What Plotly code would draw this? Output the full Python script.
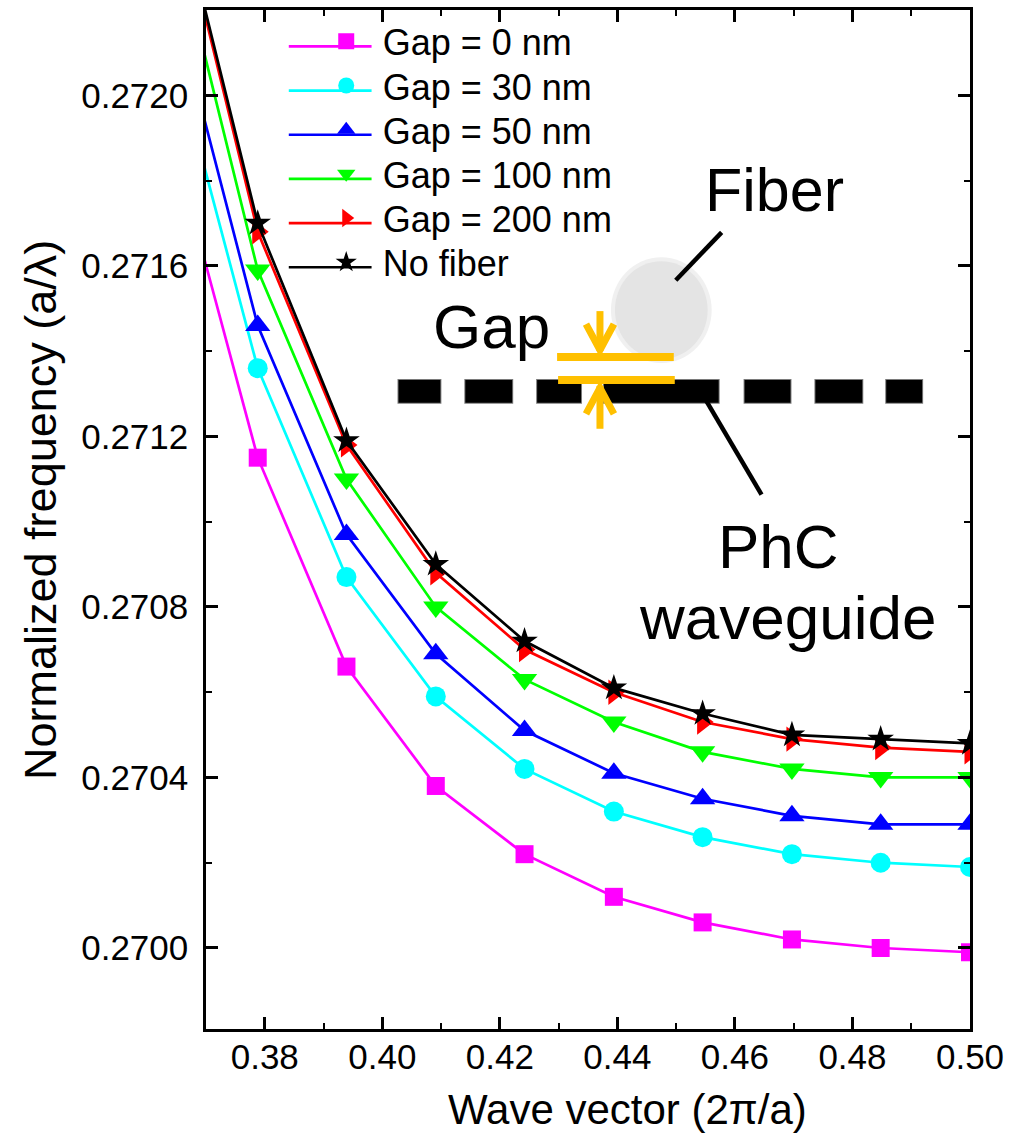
import plotly.graph_objects as go

# ---------------- data ----------------
wave_vector = [0.3636, 0.3788, 0.3939, 0.4091, 0.4242, 0.4394, 0.4545, 0.4697, 0.4848, 0.5000]

gap_0 = [0.27193, 0.27115, 0.27066, 0.27038, 0.27022, 0.27012, 0.27006, 0.27002, 0.27000, 0.26999]
gap_30 = [0.27215, 0.27136, 0.27087, 0.27059, 0.27042, 0.27032, 0.27026, 0.27022, 0.27020, 0.27019]
gap_50 = [0.27227, 0.27146, 0.27097, 0.27069, 0.27051, 0.27041, 0.27035, 0.27031, 0.27029, 0.27029]
gap_100 = [0.27244, 0.27159, 0.27110, 0.27080, 0.27063, 0.27053, 0.27046, 0.27042, 0.27040, 0.27040]
gap_200 = [0.27254, 0.27168, 0.27118, 0.27088, 0.27070, 0.27060, 0.27053, 0.27049, 0.27047, 0.27046]
no_fiber = [0.27255, 0.27170, 0.27119, 0.27090, 0.27072, 0.27061, 0.27055, 0.27050, 0.27049, 0.27048]

series_names = ["Gap = 0 nm", "Gap = 30 nm", "Gap = 50 nm", "Gap = 100 nm", "Gap = 200 nm", "No fiber"]
series_values = [gap_0, gap_30, gap_50, gap_100, gap_200, no_fiber]
series_colors = ["#FF00FF", "#00FFFF", "#0000FF", "#00FF00", "#FF0000", "#000000"]
series_symbols = ["square", "circle", "triangle-up", "triangle-down", "triangle-right", "star"]
series_sizes = [18, 20, 22, 22, 22, 20]

x_range = [0.37, 0.50]
y_range = [0.26981, 0.27220]

FONT = "Liberation Sans, Arial, sans-serif"

# ---------------- layout geometry (pixels) ----------------
W, H = 1011, 1139
L, R, T, B = 206, 39, 7, 110
PW, PH = W - L - R, H - T - B


def px(x):
    return (x - L) / PW


def py(y):
    return (T + PH - y) / PH


fig = go.Figure()

legend_rows = [43.5 + 44.3 * i for i in range(6)]
legend_ids = ["legend", "legend2", "legend3", "legend4", "legend5", "legend6"]

# data traces
for i, (name, vals, col, sym, sz) in enumerate(
        zip(series_names, series_values, series_colors, series_symbols, series_sizes)):
    fig.add_trace(go.Scatter(
        x=wave_vector, y=vals, name=name, mode="lines+markers",
        line=dict(color=col, width=2.7),
        marker=dict(symbol=sym, size=sz, color=col, line=dict(width=0)),
        showlegend=False, legendgroup=name,
    ))

# legend entries (marker part; the long sample line is drawn as a shape below)
for i, (name, col, sym, sz) in enumerate(
        zip(series_names, series_colors, series_symbols, series_sizes)):
    fig.add_trace(go.Scatter(
        x=[None], y=[None], name=name, mode="markers",
        marker=dict(symbol=sym, size=sz, color=col, line=dict(width=0)),
        showlegend=True, legendgroup=name, legend=legend_ids[i],
    ))

shapes = []
# legend sample lines (long, like the original)
for i, col in enumerate(series_colors):
    shapes.append(dict(type="line", xref="paper", yref="paper",
                       x0=px(289), x1=px(372), y0=py(legend_rows[i]), y1=py(legend_rows[i]),
                       line=dict(color=col, width=2.7)))

# fiber (blurred grey circle)
shapes.append(dict(type="circle", xref="paper", yref="paper", layer="above",
                   x0=px(612), x1=px(713), y0=py(361), y1=py(255),
                   fillcolor="#F0F0F0", line=dict(width=0)))
shapes.append(dict(type="circle", xref="paper", yref="paper", layer="above",
                   x0=px(616), x1=px(709), y0=py(357), y1=py(259),
                   fillcolor="#E4E4E4", line=dict(width=0)))

# PhC waveguide dashes
dash_segments = [(399, 441), (466, 513), (538, 582), (605, 720), (746, 792), (817, 864), (888, 924)]
for a, b in dash_segments:
    shapes.append(dict(type="rect", xref="paper", yref="paper", layer="above",
                       x0=px(a - 1), x1=px(b + 1), y0=py(402), y1=py(377),
                       fillcolor="#7A7A7A", line=dict(width=0)))
    shapes.append(dict(type="rect", xref="paper", yref="paper", layer="above",
                       x0=px(a), x1=px(b), y0=py(401), y1=py(378),
                       fillcolor="#000000", line=dict(width=0)))

ORANGE = "#FFC000"
# gap marker lines
shapes.append(dict(type="line", xref="paper", yref="paper", layer="above",
                   x0=px(558), x1=px(675), y0=py(355), y1=py(355),
                   line=dict(color=ORANGE, width=8)))
shapes.append(dict(type="line", xref="paper", yref="paper", layer="above",
                   x0=px(559), x1=px(676), y0=py(378), y1=py(378),
                   line=dict(color=ORANGE, width=8)))
# arrows
shapes.append(dict(type="line", xref="paper", yref="paper", layer="above",
                   x0=px(601), x1=px(601), y0=py(309), y1=py(349),
                   line=dict(color=ORANGE, width=7)))
shapes.append(dict(type="line", xref="paper", yref="paper", layer="above",
                   x0=px(601), x1=px(601), y0=py(384), y1=py(427),
                   line=dict(color=ORANGE, width=7)))


def path(points):
    return "M " + " L ".join(f"{px(a):.5f},{py(b):.5f}" for a, b in points)


shapes.append(dict(type="path", xref="paper", yref="paper", layer="above",
                   path=path([(587, 322), (601, 348), (615, 322)]),
                   line=dict(color=ORANGE, width=7)))
shapes.append(dict(type="path", xref="paper", yref="paper", layer="above",
                   path=path([(587, 412), (601, 386), (615, 412)]),
                   line=dict(color=ORANGE, width=7)))

# pointer lines
shapes.append(dict(type="line", xref="paper", yref="paper", layer="above",
                   x0=px(677), x1=px(723), y0=py(278), y1=py(230),
                   line=dict(color="black", width=4.5)))
shapes.append(dict(type="line", xref="paper", yref="paper", layer="above",
                   x0=px(707), x1=px(763), y0=py(398), y1=py(493),
                   line=dict(color="black", width=4.5)))

annotations = []


def add_text(text, x, y, size, angle=0):
    annotations.append(dict(text=text, xref="paper", yref="paper", x=px(x), y=py(y),
                            xanchor="center", yanchor="middle", showarrow=False,
                            textangle=angle, font=dict(family=FONT, size=size, color="black")))


add_text("Fiber", 776, 188, 61)
add_text("Gap", 492, 324, 62)
add_text("PhC", 780, 545, 62)
add_text("waveguide", 789, 616, 62)
add_text("Wave vector (2\u03c0/a)", 629, 1110, 42)
add_text("Normalized frequency (a/\u03bb)", 40, 508, 45, angle=-90)

axis_common = dict(
    showline=True, linecolor="black", linewidth=2.5, mirror="ticks",
    ticks="inside", ticklen=12, tickwidth=2.5, tickcolor="black",
    showgrid=False, zeroline=False,
    tickfont=dict(family=FONT, size=35, color="black"),
)

fig.update_xaxes(range=x_range, tick0=0.36, dtick=0.02, tickformat=".2f",
                 minor=dict(ticks="inside", ticklen=6, tickwidth=2, dtick=0.01, tick0=0.37,
                            tickcolor="black"),
                 ticklabelstandoff=-5, **axis_common)
fig.update_yaxes(range=y_range, tick0=0.2700, dtick=0.0004, tickformat=".4f",
                 minor=dict(ticks="inside", ticklen=6, tickwidth=2, dtick=0.0002, tick0=0.2700,
                            tickcolor="black"),
                 ticklabelstandoff=8, **axis_common)

layout_legends = {}
for i, lid in enumerate(legend_ids):
    layout_legends[lid] = dict(
        x=px(310), y=py(legend_rows[i] - 5), xanchor="left", yanchor="middle",
        xref="paper", yref="paper",
        bgcolor="rgba(0,0,0,0)", borderwidth=0, itemwidth=63,
        font=dict(family=FONT, size=36, color="black"),
    )

fig.update_layout(
    width=W, height=H,
    margin=dict(l=L, r=R, t=T, b=B, pad=0),
    paper_bgcolor="white", plot_bgcolor="white",
    shapes=shapes, annotations=annotations,
    showlegend=True, hovermode=False,
    **layout_legends,
)

fig.write_html("out.html", config={"displayModeBar": False},
               post_script="document.body.style.margin='0';document.body.style.padding='0';")
